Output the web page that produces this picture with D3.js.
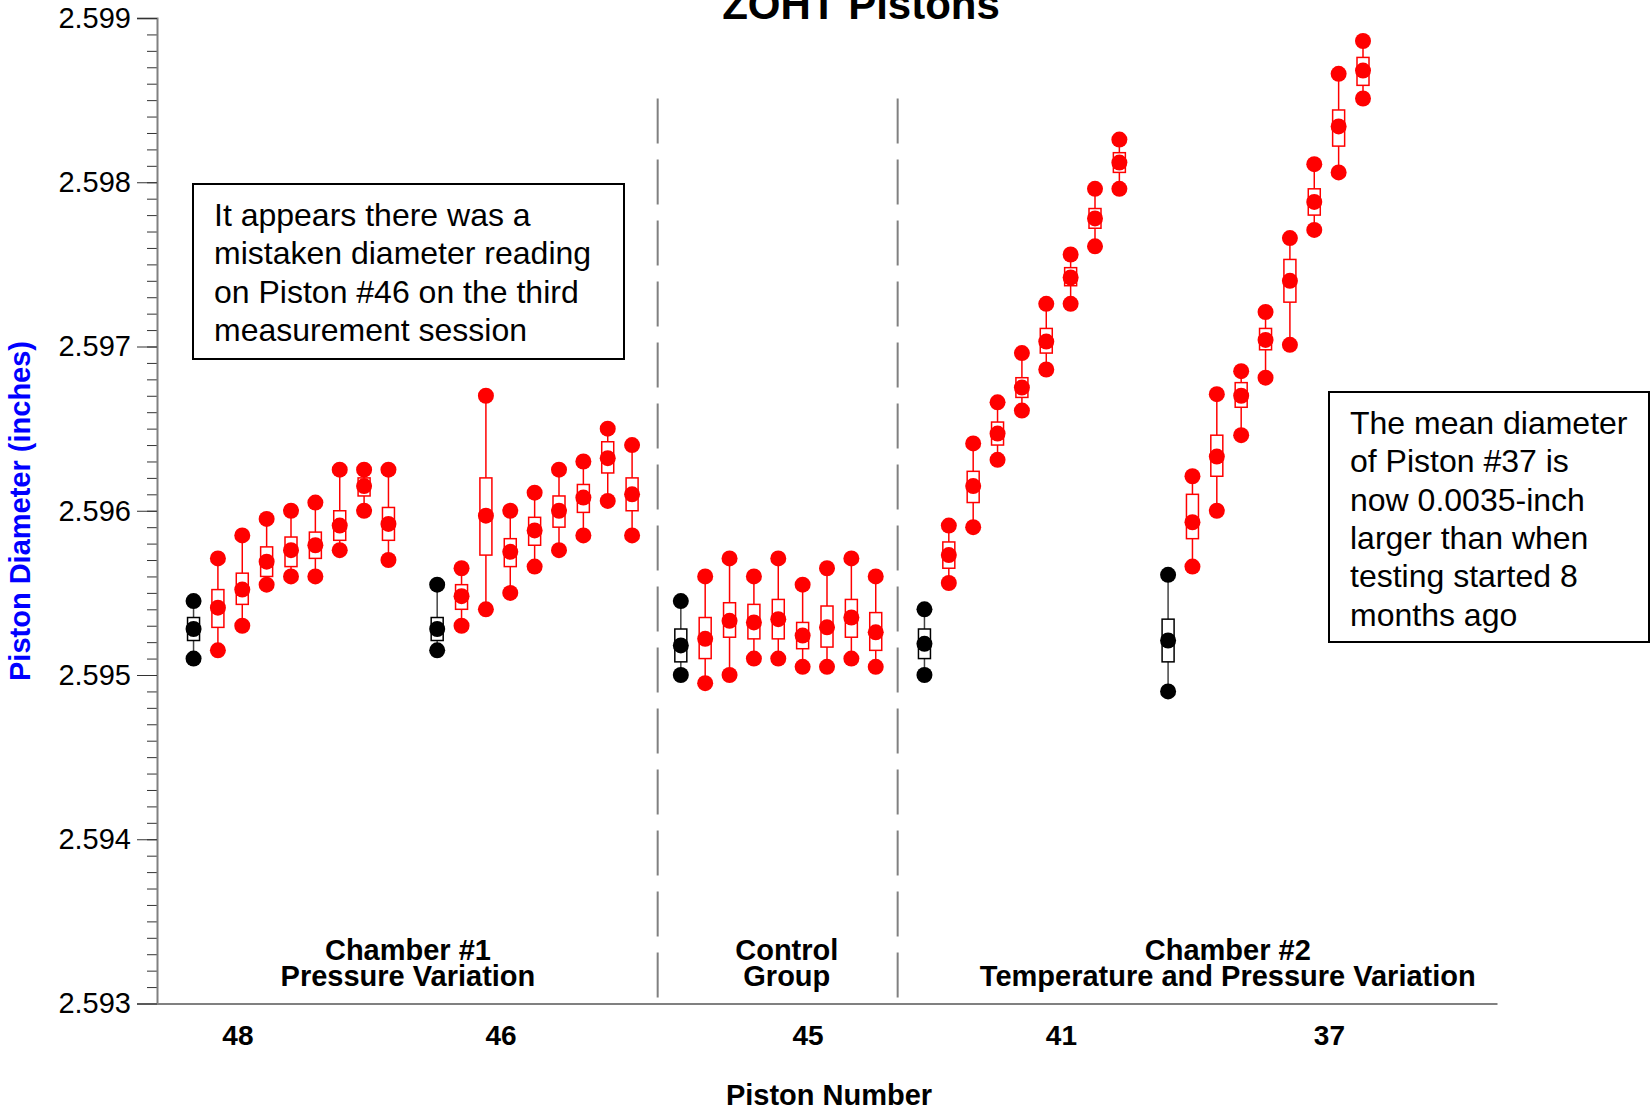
<!DOCTYPE html>
<html>
<head>
<meta charset="utf-8">
<script src="https://cdn.jsdelivr.net/npm/d3@7"></script>
<style>
  body { margin: 0; background: #fff; }
  svg { font-family: "Liberation Sans", Arial, sans-serif; }
</style>
</head>
<body>
<svg width="1651" height="1111"></svg>
<script>
// each row: [max, mean, min, box top, box bottom]; first row of each piston is the baseline session (black)
var p48 = [
  [2.59545, 2.59528, 2.59510, 2.59535, 2.59521],
  [2.59571, 2.59541, 2.59515, 2.59552, 2.59529],
  [2.59585, 2.59552, 2.59530, 2.59562, 2.59543],
  [2.59595, 2.59569, 2.59555, 2.59578, 2.59560],
  [2.59600, 2.59576, 2.59560, 2.59584, 2.59566],
  [2.59605, 2.59579, 2.59560, 2.59587, 2.59571],
  [2.59625, 2.59591, 2.59576, 2.59600, 2.59582],
  [2.59625, 2.59615, 2.59600, 2.59620, 2.59609],
  [2.59625, 2.59592, 2.59570, 2.59602, 2.59582]
];
var p46 = [
  [2.59555, 2.59528, 2.59515, 2.59535, 2.59521],
  [2.59565, 2.59548, 2.59530, 2.59555, 2.59540],
  [2.59670, 2.59597, 2.59540, 2.59620, 2.59573],
  [2.59600, 2.59575, 2.59550, 2.59583, 2.59566],
  [2.59611, 2.59588, 2.59566, 2.59596, 2.59579],
  [2.59625, 2.59600, 2.59576, 2.59609, 2.59590],
  [2.59630, 2.59608, 2.59585, 2.59616, 2.59599],
  [2.59650, 2.59632, 2.59606, 2.59642, 2.59623],
  [2.59640, 2.59610, 2.59585, 2.59620, 2.59600]
];
var p45 = [
  [2.59545, 2.59518, 2.59500, 2.59528, 2.59508],
  [2.59560, 2.59522, 2.59495, 2.59535, 2.59510],
  [2.59571, 2.59533, 2.59500, 2.59544, 2.59523],
  [2.59560, 2.59532, 2.59510, 2.59543, 2.59522],
  [2.59571, 2.59534, 2.59510, 2.59546, 2.59522],
  [2.59555, 2.59524, 2.59505, 2.59532, 2.59516],
  [2.59565, 2.59529, 2.59505, 2.59542, 2.59517],
  [2.59571, 2.59535, 2.59510, 2.59546, 2.59523],
  [2.59560, 2.59526, 2.59505, 2.59538, 2.59515]
];
var p41 = [
  [2.59540, 2.59519, 2.59500, 2.59528, 2.59510],
  [2.59591, 2.59573, 2.59556, 2.59581, 2.59565],
  [2.59641, 2.59615, 2.59590, 2.59624, 2.59605],
  [2.59666, 2.59647, 2.59631, 2.59654, 2.59640],
  [2.59696, 2.59675, 2.59661, 2.59681, 2.59669],
  [2.59726, 2.59703, 2.59686, 2.59711, 2.59696],
  [2.59756, 2.59742, 2.59726, 2.59748, 2.59737],
  [2.59796, 2.59778, 2.59761, 2.59784, 2.59772],
  [2.59826, 2.59812, 2.59796, 2.59818, 2.59806]
];
var p37 = [
  [2.59561, 2.59521, 2.59490, 2.59534, 2.59508],
  [2.59621, 2.59593, 2.59566, 2.59610, 2.59583],
  [2.59671, 2.59633, 2.59600, 2.59646, 2.59621],
  [2.59685, 2.59670, 2.59646, 2.59678, 2.59663],
  [2.59721, 2.59704, 2.59681, 2.59711, 2.59698],
  [2.59766, 2.59740, 2.59701, 2.59753, 2.59727],
  [2.59811, 2.59788, 2.59771, 2.59796, 2.59780],
  [2.59866, 2.59834, 2.59806, 2.59844, 2.59822],
  [2.59886, 2.59868, 2.59851, 2.59876, 2.59859]
];

var pistonData = [p48, p46, p45, p41, p37];
var startSlot = [0, 10, 20, 30, 40];
var pistonLabels = ["48", "46", "45", "41", "37"];
var pistonLabelPos = [1.8, 12.6, 25.2, 35.6, 46.6];
var dividers = [19.05, 28.9];
var dividerTop = 2.59851;
var groupNames = [["Chamber #1", "Pressure Variation"], ["Control", "Group"], ["Chamber #2", "Temperature and Pressure Variation"]];
var groupPos = [8.8, 24.35, 42.45];
var yMajor = [2.593, 2.594, 2.595, 2.596, 2.597, 2.598, 2.599];
var note1 = ["It appears there was a", "mistaken diameter reading", "on Piston #46 on the third", "measurement session"];
var note2 = ["The mean diameter", "of Piston #37 is", "now 0.0035-inch", "larger than when", "testing started 8", "months ago"];

var svg = d3.select("svg");

var x = d3.scaleLinear().domain([-1.5, 53.5]).range([157, 1497]);
var y = d3.scaleLinear().domain([2.593, 2.599]).range([1003.5, 18]);

// flatten sessions into slots
var sessions = [];
pistonData.forEach(function(rows, p) {
  rows.forEach(function(r, i) {
    sessions.push({slot: startSlot[p] + i, hi: r[0], mean: r[1], lo: r[2], bTop: r[3], bBot: r[4], base: i === 0});
  });
});

// dashed group dividers
svg.append("g").selectAll("line")
  .data(dividers)
  .enter().append("line")
    .attr("x1", function(d) { return x(d); })
    .attr("x2", function(d) { return x(d); })
    .attr("y1", y(dividerTop))
    .attr("y2", y(2.593))
    .attr("stroke", "#808080")
    .attr("stroke-width", 2)
    .attr("stroke-dasharray", "45,16");

// minor ticks
var minor = d3.range(0, 61).map(function(i) { return +(2.593 + i * 0.0001).toFixed(4); });
svg.append("g")
  .attr("transform", "translate(157,0)")
  .call(d3.axisLeft(y).tickValues(minor).tickSize(10).tickFormat(""))
  .call(function(g) {
    g.select(".domain").remove();
    g.selectAll("line").attr("stroke", "#333").attr("stroke-width", 1);
  });

// major ticks + labels
svg.append("g")
  .attr("transform", "translate(157,0)")
  .call(d3.axisLeft(y).tickValues(yMajor).tickSize(20).tickPadding(6).tickFormat(d3.format(".3f")))
  .call(function(g) {
    g.select(".domain").attr("stroke", "#808080").attr("stroke-width", 2);
    g.selectAll("line").attr("stroke", "#333").attr("stroke-width", 1);
    g.selectAll("text").attr("font-size", 29).attr("fill", "#000")
      .attr("font-family", "Liberation Sans, Arial, sans-serif");
  });

// x axis
svg.append("g")
  .attr("transform", "translate(0," + y(2.593) + ")")
  .call(d3.axisBottom(x).tickValues(pistonLabelPos).tickSize(0).tickPadding(22)
    .tickFormat(function(d, i) { return pistonLabels[i]; }))
  .call(function(g) {
    g.select(".domain").attr("stroke", "#808080").attr("stroke-width", 2);
    g.selectAll("text").attr("font-size", 28).attr("font-weight", "bold").attr("fill", "#000")
      .attr("font-family", "Liberation Sans, Arial, sans-serif");
  });

// group labels
var gl = svg.append("g").selectAll("text")
  .data(groupNames)
  .enter().append("text")
    .attr("text-anchor", "middle")
    .attr("font-size", 29)
    .attr("font-weight", "bold");
gl.each(function(d, i) {
  var t = d3.select(this);
  d.forEach(function(line, k) {
    t.append("tspan").attr("x", x(groupPos[i])).attr("y", 960 + k * 25.5).text(line);
  });
});

// sessions
var sess = svg.append("g").selectAll("g")
  .data(sessions)
  .enter().append("g");

sess.append("line")
  .attr("x1", function(d) { return x(d.slot); })
  .attr("x2", function(d) { return x(d.slot); })
  .attr("y1", function(d) { return y(d.hi); })
  .attr("y2", function(d) { return y(d.lo); })
  .attr("stroke", function(d) { return d.base ? "#444" : "#ff0000"; })
  .attr("stroke-width", 1.5);

sess.append("rect")
  .attr("x", function(d) { return x(d.slot) - 6; })
  .attr("width", 12)
  .attr("y", function(d) { return y(d.bTop); })
  .attr("height", function(d) { return y(d.bBot) - y(d.bTop); })
  .attr("fill", "#fff")
  .attr("stroke", function(d) { return d.base ? "#000" : "#ff0000"; })
  .attr("stroke-width", 1.5);

sess.selectAll("circle")
  .data(function(d) { return [d.hi, d.lo, d.mean].map(function(v) { return {slot: d.slot, v: v, base: d.base}; }); })
  .enter().append("circle")
    .attr("cx", function(d) { return x(d.slot); })
    .attr("cy", function(d) { return y(d.v); })
    .attr("r", 8)
    .attr("fill", function(d) { return d.base ? "#000" : "#ff0000"; });

// annotations
function note(lines, bx, by, bw, bh, tx, ty) {
  var g = svg.append("g");
  g.append("rect").attr("x", bx).attr("y", by).attr("width", bw).attr("height", bh)
    .attr("fill", "#fff").attr("stroke", "#000").attr("stroke-width", 2);
  g.selectAll("text").data(lines).enter().append("text")
    .attr("x", tx)
    .attr("y", function(d, i) { return ty + i * 38.3; })
    .attr("font-size", 32)
    .attr("fill", "#000")
    .text(function(d) { return d; });
}
note(note1, 193, 184, 431, 175, 214, 226);
note(note2, 1329, 392, 320, 250, 1350, 434);

// title
svg.append("text")
  .attr("x", 861).attr("y", 19)
  .attr("text-anchor", "middle")
  .attr("font-size", 42)
  .attr("font-weight", "bold")
  .text("ZOHT Pistons");

// axis titles
svg.append("text")
  .attr("transform", "translate(30,511) rotate(-90)")
  .attr("text-anchor", "middle")
  .attr("font-size", 29)
  .attr("font-weight", "bold")
  .attr("fill", "#0000ff")
  .text("Piston Diameter (inches)");

svg.append("text")
  .attr("x", 829).attr("y", 1105)
  .attr("text-anchor", "middle")
  .attr("font-size", 29)
  .attr("font-weight", "bold")
  .text("Piston Number");
</script>
</body>
</html>
